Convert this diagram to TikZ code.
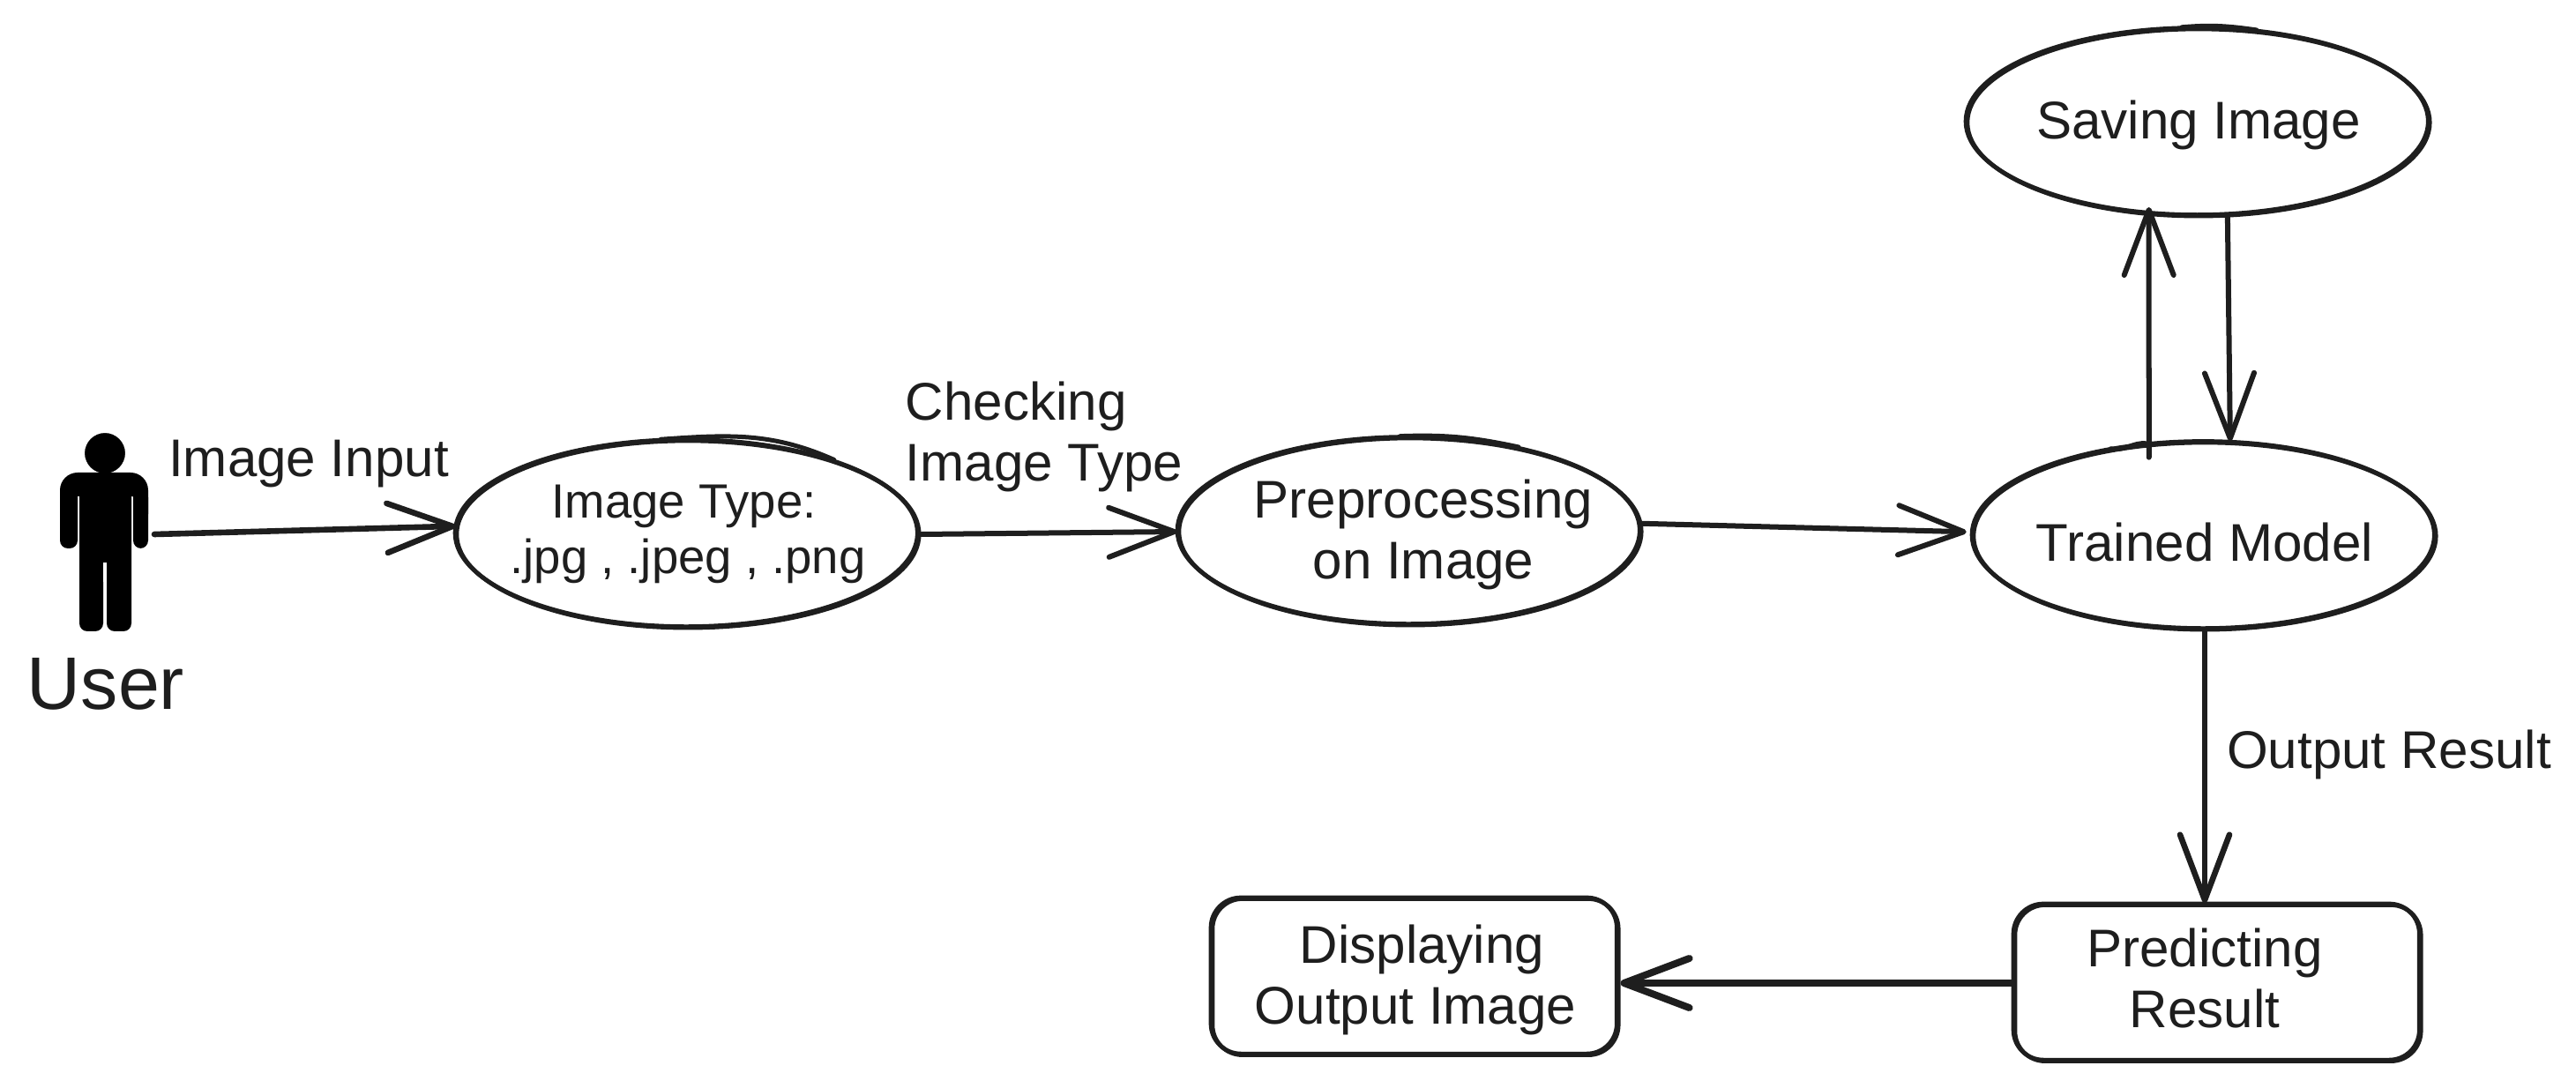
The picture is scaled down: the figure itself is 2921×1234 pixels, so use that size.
\documentclass[tikz,border=0pt]{standalone}
\usepackage{fontspec}
\setmainfont{Liberation Sans}
\usepackage{xcolor}
\usetikzlibrary{shapes.geometric,arrows.meta,positioning}
\definecolor{inkgray}{HTML}{1E1E1E}
\tikzset{
    -{Straight Barb[length=0.74cm,width=0.56cm,round]},auto,
    plaintext/.style = {inkgray, align=left, inner sep=0pt, font=\fontsize{17.1}{19.6}\selectfont},
    sketched/.style = {draw=inkgray, line width=0.048cm, fill=white, inner sep=0pt, align=center, -,
        text=inkgray, font=\fontsize{17.1}{19.6}\selectfont,
        postaction={draw, transform canvas={xshift=-0.018cm,yshift=0.014cm}}},
    stateoval/.style = {sketched, ellipse, inner xsep=-1cm, minimum width=5.24cm, minimum height=2.12cm},
    stepbox/.style = {sketched, rectangle, rounded corners=0.34cm, minimum width=4.6cm, minimum height=1.77cm},
    flow/.style = {draw=inkgray, line width=0.06cm, line cap=round},
    overstroke/.style = {draw=inkgray, line width=0.05cm, line cap=round, -}
}
\begin{document}
\begin{tikzpicture}[x=0.01cm,y=-0.01cm]
    \useasboundingbox (0,0) rectangle (2921,1234);
    % User figure
    \fill[black, draw=white, line width=0.02cm] (119,514) ellipse [x radius=24, y radius=24];
    \fill[black, rounded corners=0.2cm] (68,580) -- (68,536) -- (168,536) -- (168,580) -- (168,563) -- (68,563) -- cycle;
    \fill[black] (90,550) rectangle (149,650);
    \foreach \xa/\xb/\yb in {68/88/622,151/168/622,90/117/716,121/149/716}{
        \fill[black, rounded corners=0.09cm] (\xa,555) rectangle (\xb,\yb);
    }
    \fill[white] (117,638) rectangle (121,660);
    \coordinate (userhand) at (175,606);
    \node[plaintext, font=\fontsize{24}{26}\selectfont] (usertext) at (120,776) {User};
    % Ovals
    \node[stateoval, font=\fontsize{15.5}{18}\selectfont] (imagetype) at (780,606) {\hspace*{-0.09cm}Image Type:\\.jpg , .jpeg , .png};
    \node[stateoval, text depth=1.5pt] (preprocessing) at (1599,603) {\hspace*{0.3cm}Preprocessing\\\hspace*{0.3cm}on Image};
    \node[stateoval, text height=16pt, text depth=0pt] (trained) at (2500,608) {Trained Model};
    \node[stateoval, text depth=1.8pt] (saving) at (2493,139) {Saving Image};
    % Boxes
    \node[stepbox, text depth=3.2pt] (predicting) at (2515,1115) {\hspace*{-0.3cm}Predicting\\\hspace*{-0.3cm}Result};
    \node[stepbox, text depth=1.5pt] (displaying) at (1605,1108) {\hspace*{0.15cm}Displaying\\Output Image};
    % Extra pen strokes
    \draw[overstroke] (imagetype.106) to[out=4,in=156] (imagetype.27);
    \draw[overstroke] (preprocessing.96) to[out=2,in=168] (preprocessing.38);
    \draw[overstroke] (saving.100) to[out=5,in=172] (saving.58);
    \draw[overstroke] (trained.137) to[out=-14,in=172] (trained.122);
    % Arrows
    \path (userhand) edge[flow, line width=0.066cm] (imagetype.178);
    \path (imagetype.east) edge[flow] (preprocessing.west);
    \path (preprocessing.2) edge[flow, shorten >=0.06cm] (trained.179);
    \path (trained.121) edge[flow, shorten <=-0.16cm, shorten >=-0.1cm] (saving.242);
    \path (saving.287) edge[flow] (trained.75);
    \path (trained.south) edge[flow, line width=0.066cm] (predicting.north -| trained.south);
    \path (predicting.west) edge[flow, line width=0.08cm] (displaying.east |- predicting.west);
    % Labels
    \node[plaintext] (inputlabel) at (350,526) {Image Input};
    \node[plaintext] (checklabel) at (1184,495) {Checking\\Image Type};
    \node[plaintext] (outputlabel) at (2709,856) {Output Result};
\end{tikzpicture}
\end{document}
